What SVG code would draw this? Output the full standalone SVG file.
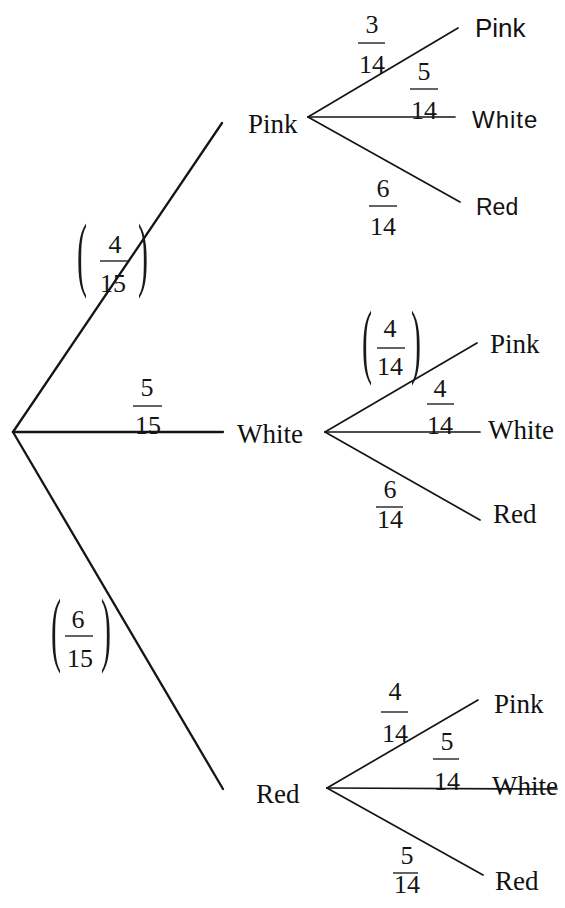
<svg xmlns="http://www.w3.org/2000/svg" width="565" height="908" viewBox="0 0 565 908">
<style>
.ln{stroke:#151515;stroke-width:1.7;fill:none;stroke-linecap:round}
.main{stroke-width:2.3}
.bar{stroke:#222;stroke-width:1.4}
.lbl{font-family:"Liberation Serif","Times New Roman",serif;font-size:27px;fill:#111}
.sl{font-family:"Liberation Sans",Arial,sans-serif;font-size:23px;fill:#111}
.d{font-family:"Liberation Serif","Times New Roman",serif;font-size:26px;fill:#151515;text-anchor:middle}
.p{font-family:"Liberation Serif","Times New Roman",serif;font-size:30px;fill:#1a1a1a}
</style>
<rect width="565" height="908" fill="#fff"/>
<g id="connectors">
<line class="ln main" x1="13" y1="432" x2="222" y2="123"/>
<line class="ln main" x1="13" y1="432" x2="223" y2="432"/>
<line class="ln main" x1="13" y1="432" x2="223" y2="789"/>
<line class="ln" x1="308" y1="117" x2="458" y2="28"/>
<line class="ln" x1="308" y1="117" x2="455" y2="117"/>
<line class="ln" x1="308" y1="117" x2="460" y2="202"/>
<line class="ln" x1="325" y1="432" x2="477" y2="343"/>
<line class="ln" x1="325" y1="432" x2="480" y2="432"/>
<line class="ln" x1="325" y1="432" x2="480" y2="520"/>
<line class="ln" x1="327" y1="788" x2="478" y2="700"/>
<line class="ln" x1="327" y1="788" x2="557" y2="789"/>
<line class="ln" x1="327" y1="788" x2="483" y2="875"/>
</g>
<g id="node-pink"><text class="lbl" x="248" y="133">Pink</text></g>
<g id="node-white"><text class="lbl" x="237" y="443">White</text></g>
<g id="node-red"><text class="lbl" x="256" y="803">Red</text></g>
<g id="node-pink-pink"><text class="sl" x="475" y="37" style="font-size:26px">Pink</text></g>
<g id="node-pink-white"><text class="sl" x="472" y="128" style="font-size:24px;letter-spacing:1px">White</text></g>
<g id="node-pink-red"><text class="sl" x="476" y="215">Red</text></g>
<g id="node-white-pink"><text class="lbl" x="490" y="353">Pink</text></g>
<g id="node-white-white"><text class="lbl" x="488" y="439">White</text></g>
<g id="node-white-red"><text class="lbl" x="493" y="523">Red</text></g>
<g id="node-red-pink"><text class="lbl" x="494" y="713">Pink</text></g>
<g id="node-red-white"><text class="lbl" x="492" y="795">White</text></g>
<g id="node-red-red"><text class="lbl" x="495" y="890">Red</text></g>
<g id="labels">
<text class="p" transform="translate(77,281) scale(1,2.75)">(</text>
<text class="p" text-anchor="end" transform="translate(148,281) scale(1,2.75)">)</text>
<text class="d" x="115" y="253">4</text><line class="bar" x1="100" y1="261" x2="128" y2="261"/><text class="d" x="113" y="292">15</text>
<text class="d" x="147" y="396">5</text><line class="bar" x1="133" y1="406" x2="162" y2="406"/><text class="d" x="148" y="434">15</text>
<text class="p" transform="translate(51,656) scale(1,2.75)">(</text>
<text class="p" text-anchor="end" transform="translate(111,656) scale(1,2.75)">)</text>
<text class="d" x="78" y="628">6</text><line class="bar" x1="65" y1="636" x2="93" y2="636"/><text class="d" x="80" y="667">15</text>
<text class="d" x="372" y="33">3</text><line class="bar" x1="358" y1="43" x2="385" y2="43"/><text class="d" x="372" y="73">14</text>
<text class="d" x="424" y="80">5</text><line class="bar" x1="410" y1="89" x2="438" y2="89"/><text class="d" x="424" y="119">14</text>
<text class="d" x="383" y="197">6</text><line class="bar" x1="369" y1="206" x2="397" y2="206"/><text class="d" x="383" y="235">14</text>
<text class="p" transform="translate(362,368) scale(1,2.75)">(</text>
<text class="p" text-anchor="end" transform="translate(421,368) scale(1,2.75)">)</text>
<text class="d" x="390" y="337">4</text><line class="bar" x1="377" y1="348" x2="405" y2="348"/><text class="d" x="390" y="375">14</text>
<text class="d" x="440" y="397">4</text><line class="bar" x1="427" y1="404" x2="454" y2="404"/><text class="d" x="440" y="434">14</text>
<text class="d" x="390" y="498">6</text><line class="bar" x1="376" y1="507" x2="403" y2="507"/><text class="d" x="390" y="528">14</text>
<text class="d" x="395" y="700">4</text><line class="bar" x1="381" y1="712" x2="408" y2="712"/><text class="d" x="395" y="742">14</text>
<text class="d" x="447" y="750">5</text><line class="bar" x1="433" y1="759" x2="459" y2="759"/><text class="d" x="447" y="790">14</text>
<text class="d" x="407" y="864">5</text><line class="bar" x1="393" y1="873" x2="418" y2="873"/><text class="d" x="407" y="893">14</text>
</g>
</svg>
